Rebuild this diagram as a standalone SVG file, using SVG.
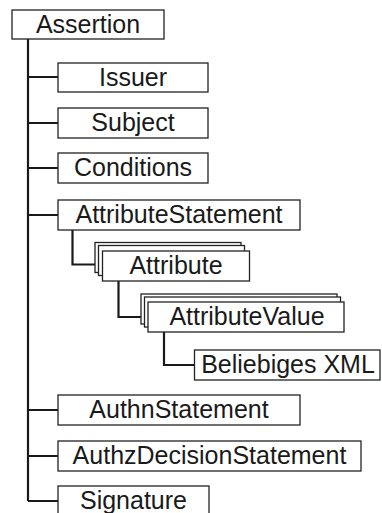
<svg xmlns="http://www.w3.org/2000/svg" width="382" height="513" viewBox="0 0 382 513">
  <style>
    .box { fill: #ffffff; stroke: #222222; stroke-width: 1.3; }
    .lbl { font-family: "Liberation Sans", Arial, sans-serif; font-size: 25px; fill: #1a1a1a; text-anchor: middle; }
    .wire { fill: none; stroke: #1a1a1a; stroke-width: 2.2; }
  </style>
  <rect width="382" height="513" fill="#ffffff"/>

  <!-- tree connectors -->
  <g id="connectors">
    <path class="wire" d="M28 39 V501"/>
    <path class="wire" d="M28 77 H58 M28 123 H58 M28 168 H58 M28 215 H58 M28 410 H58 M28 456 H58 M28 501 H58"/>
    <path class="wire" d="M72.5 230 V264.5 H95"/>
    <path class="wire" d="M118.5 281 V317 H141"/>
    <path class="wire" d="M164 332 V365 H194.5"/>
  </g>

  <g id="assertion">
    <rect class="box" x="12" y="10" width="152" height="29"/>
    <text class="lbl" x="88" y="33">Assertion</text>
  </g>
  <g id="issuer">
    <rect class="box" x="58" y="63" width="150" height="29"/>
    <text class="lbl" x="133" y="86">Issuer</text>
  </g>
  <g id="subject">
    <rect class="box" x="58" y="108" width="150" height="30"/>
    <text class="lbl" x="133" y="131">Subject</text>
  </g>
  <g id="conditions">
    <rect class="box" x="58" y="153" width="150" height="30"/>
    <text class="lbl" x="133" y="176">Conditions</text>
  </g>
  <g id="attribute-statement">
    <rect class="box" x="58" y="200" width="242" height="30"/>
    <text class="lbl" x="179" y="223">AttributeStatement</text>
  </g>
  <!-- repeated element: stacked boxes -->
  <g id="attribute">
    <rect class="box" x="95" y="242.5" width="146" height="30"/>
    <rect class="box" x="98.5" y="245.5" width="146" height="30"/>
    <rect class="box" x="102.5" y="251" width="147" height="30"/>
    <text class="lbl" x="176" y="274">Attribute</text>
  </g>
  <g id="attribute-value">
    <rect class="box" x="141" y="294" width="196" height="30"/>
    <rect class="box" x="144.5" y="297" width="196" height="30"/>
    <rect class="box" x="148" y="302" width="196" height="30"/>
    <text class="lbl" x="247" y="325">AttributeValue</text>
  </g>
  <g id="any-xml">
    <rect class="box" x="194.5" y="350" width="185.5" height="30"/>
    <text class="lbl" x="288" y="373">Beliebiges XML</text>
  </g>
  <g id="authn-statement">
    <rect class="box" x="58" y="395" width="242" height="30"/>
    <text class="lbl" x="179" y="418">AuthnStatement</text>
  </g>
  <g id="authz-decision-statement">
    <rect class="box" x="58" y="441" width="303" height="30"/>
    <text class="lbl" x="209.5" y="464">AuthzDecisionStatement</text>
  </g>
  <g id="signature">
    <rect class="box" x="58" y="486" width="151" height="30"/>
    <text class="lbl" x="133.5" y="509">Signature</text>
  </g>
</svg>
